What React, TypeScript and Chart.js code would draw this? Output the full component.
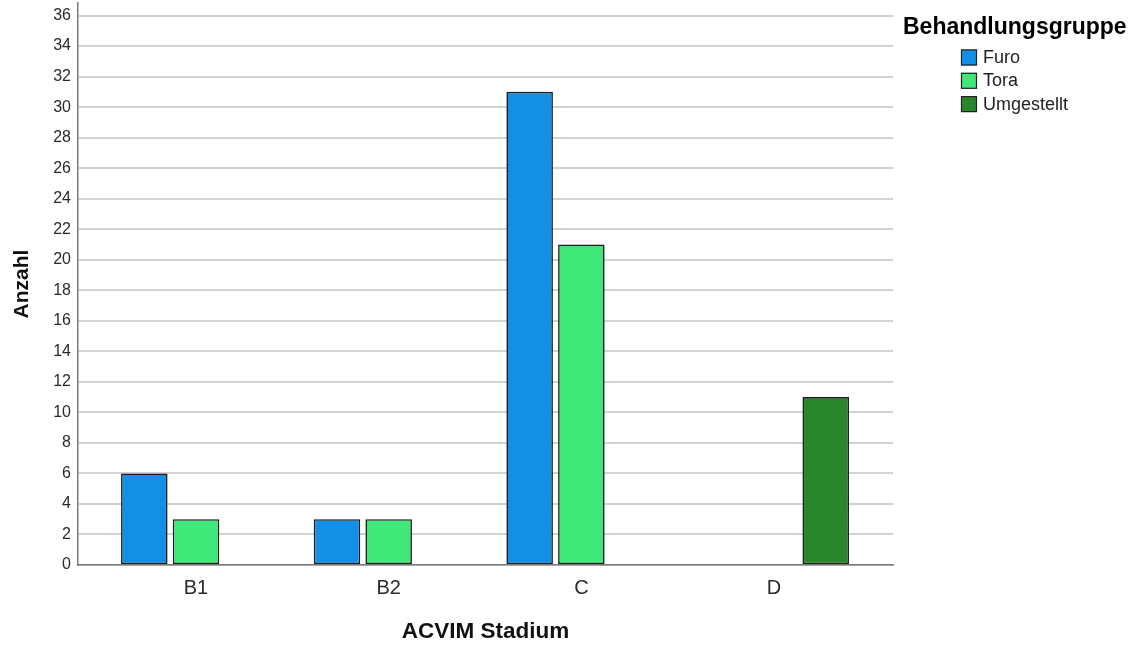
import React, { useEffect, useRef } from "react";
import { Chart, registerables } from "chart.js";

Chart.register(...registerables);

const categories = ["B1", "B2", "C", "D"];
const seriesNames = ["Furo", "Tora", "Umgestellt"];
const furo = [6, 3, 31, null];
const tora = [3, 3, 21, null];
const umgestellt = [null, null, null, 11];
const seriesColors = ["#148FE6", "#40E87A", "#29862B"];
const xTitle = "ACVIM Stadium";
const yTitle = "Anzahl";
const legendTitle = "Behandlungsgruppe";
const yMax = 36.82;
const yStep = 2;

const FONT = '"Liberation Sans", Arial, sans-serif';

const sideLegend = {
  id: "sideLegend",
  afterDraw(chart: any) {
    const ctx = chart.ctx;
    ctx.save();
    ctx.textAlign = "left";
    ctx.textBaseline = "alphabetic";
    ctx.fillStyle = "#000";
    ctx.font = `bold 23px ${FONT}`;
    ctx.fillText(legendTitle, 903, 34);
    ctx.font = `18px ${FONT}`;
    ctx.textBaseline = "middle";
    chart.data.datasets.forEach((ds: any, i: number) => {
      const y = 49.5 + i * 23.3;
      ctx.fillStyle = ds.backgroundColor;
      ctx.fillRect(961, y, 16, 16);
      ctx.strokeStyle = "#222";
      ctx.lineWidth = 1.2;
      ctx.strokeRect(961.5, y + 0.5, 15, 15);
      ctx.fillStyle = "#222";
      ctx.fillText(ds.label, 983, y + 8.5);
    });
    ctx.restore();
  },
};

export default function App() {
  const ref = useRef<HTMLCanvasElement>(null);
  useEffect(() => {
    const values = [furo, tora, umgestellt];
    const chart = new Chart(ref.current as HTMLCanvasElement, {
      type: "bar",
      data: {
        labels: categories,
        datasets: seriesNames.map((name, i) => ({
          label: name,
          data: values[i],
          backgroundColor: seriesColors[i],
          borderColor: "#1e1e1e",
          borderWidth: 1.6,
          borderSkipped: false,
          categoryPercentage: 0.805,
          barPercentage: 0.9,
        })),
      },
      options: {
        animation: false,
        responsive: true,
        maintainAspectRatio: false,
        layout: { padding: { top: 3, right: 241, bottom: 0, left: 0 } },
        plugins: {
          legend: { display: false },
          tooltip: { enabled: false },
        },
        scales: {
          x: {
            offset: true,
            grid: { display: false, drawTicks: false },
            border: { display: true, color: "#7a7a7a", width: 1.5 },
            ticks: {
              padding: 11,
              color: "#2a2a2a",
              font: { family: FONT, size: 20 },
            },
            title: {
              display: true,
              text: xTitle,
              color: "#111",
              font: { family: FONT, size: 22.5, weight: "bold" },
              padding: { top: 0, bottom: 0 },
            },
            afterBuildTicks: (scale: any) => {
              scale._startValue = -0.6125;
              scale._valueRange = 4.23;
            },
            afterFit: (scale: any) => {
              scale.height = 80;
              scale.paddingLeft = 0;
              scale.paddingRight = 0;
            },
          },
          y: {
            min: 0,
            max: yMax,
            grid: { color: "#d2d2d2", lineWidth: 2, drawTicks: false },
            border: { display: true, color: "#7a7a7a", width: 1.5 },
            ticks: {
              stepSize: yStep,
              includeBounds: false,
              padding: 7,
              color: "#2a2a2a",
              font: { family: FONT, size: 16 },
            },
            title: {
              display: true,
              text: yTitle,
              color: "#111",
              font: { family: FONT, size: 21, weight: "bold" },
              padding: { top: 10, bottom: 0 },
            },
            afterFit: (scale: any) => {
              scale.width = 78;
              scale.paddingTop = 0;
              scale.paddingBottom = 0;
            },
          },
        },
      },
      plugins: [sideLegend],
    });
    return () => chart.destroy();
  }, []);
  return (
    <div style={{ position: "absolute", left: 0, top: 0, width: 1134, height: 645, background: "#fff" }}>
      <canvas ref={ref} />
    </div>
  );
}
